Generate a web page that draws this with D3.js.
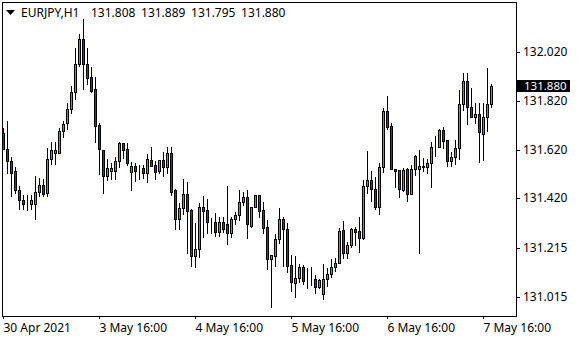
<!DOCTYPE html>
<html>
<head>
<meta charset="utf-8">
<script src="https://cdnjs.cloudflare.com/ajax/libs/d3/7.8.5/d3.min.js"></script>
<style>
  body { margin: 0; background: #fff; }
  text { font-family: "Noto Sans", sans-serif; font-size: 12px; fill: #000; }
</style>
</head>
<body>
<div id="chart"></div>
<script>
// EURJPY H1 candles
const opens = [
  131.688,131.623,131.573,131.532,131.455,131.414,131.397,131.397,131.397,131.446,
  131.475,131.442,131.582,131.606,131.606,131.696,131.729,131.786,131.856,131.971,
  132.073,131.971,131.918,131.868,131.721,131.619,131.512,131.532,131.532,131.573,
  131.647,131.623,131.528,131.553,131.537,131.545,131.524,131.578,131.557,131.532,
  131.578,131.549,131.606,131.455,131.336,131.381,131.438,131.373,131.184,131.213,
  131.385,131.373,131.324,131.324,131.283,131.324,131.315,131.278,131.336,131.352,
  131.405,131.426,131.307,131.385,131.434,131.373,131.303,131.172,131.184,131.254,
  131.336,131.295,131.147,131.074,131.094,131.139,131.086,131.090,131.090,131.057,
  131.029,131.090,131.110,131.139,131.156,131.291,131.197,131.229,131.295,131.287,
  131.258,131.471,131.496,131.459,131.385,131.549,131.778,131.717,131.541,131.537,
  131.455,131.541,131.438,131.541,131.541,131.549,131.549,131.565,131.631,131.631,
  131.700,131.659,131.573,131.590,131.627,131.807,131.901,131.795,131.754,131.766,
  131.684,131.754,131.808];
const highs = [
  131.709,131.737,131.590,131.549,131.471,131.434,131.434,131.434,131.512,131.504,
  131.500,131.627,131.651,131.651,131.709,131.737,131.811,131.881,132.036,132.094,
  132.155,132.036,131.959,131.918,131.729,131.619,131.582,131.565,131.590,131.651,
  131.647,131.647,131.569,131.565,131.557,131.557,131.602,131.631,131.573,131.578,
  131.610,131.631,131.631,131.459,131.401,131.500,131.487,131.377,131.319,131.401,
  131.430,131.418,131.340,131.360,131.344,131.344,131.471,131.344,131.364,131.455,
  131.446,131.455,131.385,131.434,131.434,131.405,131.332,131.188,131.274,131.381,
  131.344,131.319,131.188,131.184,131.151,131.147,131.135,131.139,131.106,131.090,
  131.151,131.135,131.172,131.176,131.299,131.328,131.242,131.299,131.303,131.344,
  131.496,131.614,131.532,131.508,131.565,131.791,131.840,131.729,131.541,131.537,
  131.545,131.545,131.557,131.598,131.619,131.586,131.582,131.651,131.676,131.705,
  131.713,131.659,131.610,131.659,131.864,131.934,131.934,131.873,131.811,131.811,
  131.811,131.954,131.889];
const lows = [
  131.623,131.524,131.430,131.442,131.377,131.377,131.373,131.377,131.336,131.430,
  131.430,131.430,131.561,131.561,131.606,131.672,131.705,131.770,131.827,131.963,
  131.868,131.889,131.856,131.651,131.520,131.442,131.496,131.500,131.500,131.549,
  131.586,131.557,131.455,131.491,131.500,131.504,131.487,131.553,131.500,131.524,
  131.512,131.524,131.434,131.295,131.295,131.356,131.197,131.143,131.139,131.180,
  131.262,131.278,131.278,131.266,131.266,131.283,131.233,131.262,131.315,131.332,
  131.393,131.258,131.303,131.385,131.344,131.278,131.131,130.975,131.143,131.237,
  131.143,131.119,131.041,131.016,131.078,131.070,131.053,131.065,131.033,131.053,
  131.008,131.061,131.098,131.123,131.156,131.176,131.176,131.221,131.229,131.201,
  131.254,131.442,131.410,131.377,131.356,131.528,131.705,131.541,131.467,131.426,
  131.451,131.410,131.438,131.516,131.197,131.532,131.524,131.467,131.594,131.631,
  131.627,131.553,131.553,131.561,131.582,131.782,131.725,131.754,131.729,131.569,
  131.578,131.696,131.795];
const closes = [
  131.623,131.573,131.524,131.455,131.414,131.397,131.397,131.414,131.446,131.475,
  131.438,131.582,131.619,131.619,131.696,131.725,131.786,131.856,131.971,132.073,
  131.971,131.913,131.860,131.717,131.623,131.512,131.545,131.545,131.573,131.647,
  131.619,131.565,131.553,131.532,131.537,131.524,131.582,131.553,131.528,131.578,
  131.549,131.606,131.446,131.336,131.381,131.438,131.369,131.184,131.213,131.385,
  131.369,131.324,131.324,131.283,131.324,131.295,131.278,131.336,131.352,131.405,
  131.426,131.315,131.385,131.434,131.369,131.299,131.172,131.188,131.254,131.336,
  131.295,131.143,131.078,131.094,131.139,131.082,131.086,131.090,131.057,131.086,
  131.090,131.110,131.139,131.156,131.287,131.197,131.229,131.295,131.283,131.258,
  131.471,131.496,131.459,131.385,131.549,131.778,131.713,131.541,131.532,131.459,
  131.537,131.438,131.541,131.594,131.553,131.553,131.565,131.631,131.631,131.700,
  131.655,131.573,131.590,131.627,131.807,131.901,131.795,131.754,131.766,131.692,
  131.754,131.808,131.880];

const timeLabels = ["30 Apr 2021", "3 May 16:00", "4 May 16:00", "5 May 16:00", "6 May 16:00", "7 May 16:00"];
const timeLabelBars = [0, 24, 48, 72, 96, 120];
const priceTicks = [132.020, 131.820, 131.620, 131.420, 131.215, 131.015];
const symbol = "EURJPY,H1";

const candles = opens.map((o, i) => ({ i, o, h: highs[i], l: lows[i], c: closes[i] }));
const last = candles[candles.length - 1];

const width = 580, height = 340;
const plotLeft = 2, plotTop = 2, plotRight = 516, plotBottom = 316;

const svg = d3.select('#chart').append('svg')
  .attr('width', width)
  .attr('height', height)
  .attr('shape-rendering', 'crispEdges');

const x = d3.scaleLinear()
  .domain([0, candles.length - 1])
  .range([3, 3 + 4 * (candles.length - 1)]);

const y = d3.scaleLinear()
  .domain([131.015, 132.020])
  .range([297.3, 52])
  .interpolate(d3.interpolateRound);

// frame
svg.append('rect')
  .attr('x', plotLeft + 0.5).attr('y', plotTop + 0.5)
  .attr('width', plotRight - plotLeft).attr('height', plotBottom - plotTop)
  .attr('fill', '#fff').attr('stroke', '#000');

// candles
const g = svg.append('g');

g.selectAll('line.wick')
  .data(candles)
  .enter().append('line')
    .attr('class', 'wick')
    .attr('x1', d => x(d.i) + 0.5).attr('x2', d => x(d.i) + 0.5)
    .attr('y1', d => y(d.h)).attr('y2', d => y(d.l) + 1)
    .attr('stroke', '#000');

g.selectAll('rect.body')
  .data(candles)
  .enter().append('rect')
    .attr('class', 'body')
    .attr('x', d => x(d.i) - 0.5)
    .attr('y', d => y(Math.max(d.o, d.c)) + 0.5)
    .attr('width', 2)
    .attr('height', d => y(Math.min(d.o, d.c)) - y(Math.max(d.o, d.c)))
    .attr('fill', d => d.c >= d.o ? '#2fbf2f' : '#dd0000')
    .attr('stroke', '#000');

// price axis
const yAxis = svg.append('g')
  .attr('transform', `translate(${plotRight},0)`)
  .call(d3.axisRight(y).tickValues(priceTicks).tickFormat(d3.format('.3f')).tickSize(4).tickPadding(3));
yAxis.select('.domain').remove();
yAxis.selectAll('line').attr('stroke', '#000');
yAxis.selectAll('text')
  .attr('x', 7)
  .style('font-family', '"Noto Sans", sans-serif')
  .style('font-size', '12px')
  .attr('fill', '#000');

// time axis
const xAxis = svg.append('g')
  .attr('transform', `translate(0,${plotBottom})`)
  .call(d3.axisBottom(x).tickValues(timeLabelBars).tickFormat((d, k) => timeLabels[k]).tickSize(3));
xAxis.select('.domain').remove();
xAxis.selectAll('line').attr('stroke', '#000');
xAxis.selectAll('text')
  .attr('y', 16).attr('dy', 0)
  .attr('text-anchor', 'start')
  .style('font-family', '"Noto Sans", sans-serif')
  .style('font-size', '12px')
  .attr('fill', '#000');

// current price marker
const yc = y(last.c);
svg.append('rect')
  .attr('x', 517).attr('y', yc - 6)
  .attr('width', 53).attr('height', 12)
  .attr('fill', '#000');
svg.append('text')
  .attr('x', 524).attr('y', yc + 4)
  .style('fill', '#fff')
  .style('font-size', '11.5px')
  .text(d3.format('.3f')(last.c));

// header
svg.append('path')
  .attr('d', 'M6,10 L15,10 L10.5,15 Z')
  .attr('fill', '#000')
  .attr('shape-rendering', 'auto');
svg.append('text')
  .attr('x', 21).attr('y', 17)
  .text(symbol);
svg.append('text')
  .attr('x', 91).attr('y', 17)
  .style('word-spacing', '2.5px')
  .text([last.o, last.h, last.l, last.c].map(d3.format('.3f')).join(' '));
</script>
</body>
</html>
